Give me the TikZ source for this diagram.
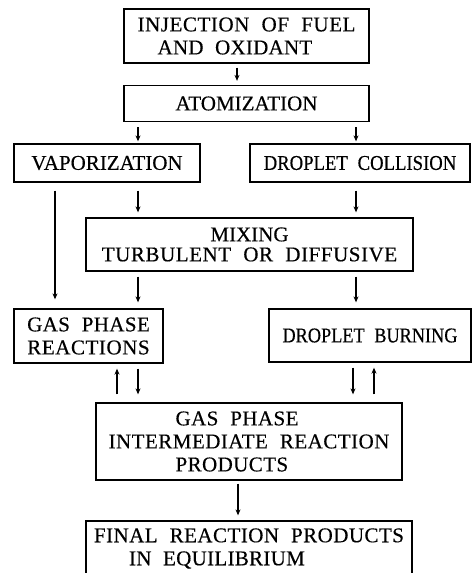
\documentclass[tikz,border=0pt]{standalone}
\usepackage{fontspec}
\usepackage{graphicx}
\setmainfont{Liberation Serif}[LetterSpace=2,FakeBold=0.4,WordSpace=2.1]
\usetikzlibrary{arrows.meta}
\newcommand{\lsp}[2]{{\addfontfeature{LetterSpace=#1}#2}}
\begin{document}
\begin{tikzpicture}[x=1pt,y=-1pt,
  box/.style={draw, line width=1.3pt, inner sep=0pt, font=\fontsize{21}{23}\selectfont},
  arr/.style={-{Stealth[length=6pt,width=5pt]}, line width=1.1pt, shorten >=5pt, shorten <=5pt}]
\useasboundingbox (0,0) rectangle (472,573);
\node[box, minimum width=245pt, minimum height=54pt, align=left] (inj) at (246.5,36)
  {\lsp{2.7}{INJECTION OF FUEL}\\\hspace*{20pt}\lsp{1.2}{AND OXIDANT}};
\node[box, minimum width=245pt, minimum height=36pt] (atom) at (246.5,103.5)
  {\lsp{0}{ATOMIZATION}};
\node[box, minimum width=186pt, minimum height=38pt] (vap) at (107,163)
  {\lsp{0}{VAPORIZATION}};
\node[box, minimum width=220pt, minimum height=38pt] (coll) at (360,163)
  {\scalebox{0.89}[1]{\lsp{0}{DROPLET COLLISION}}};
\node[box, minimum width=327pt, minimum height=53pt, align=center,
  font=\fontsize{21}{20}\selectfont] (mix) at (249.5,244.5)
  {\lsp{0}{MIXING}\\\lsp{2.7}{TURBULENT OR DIFFUSIVE}};
\node[box, minimum width=149pt, minimum height=54pt, align=center] (gpr) at (88.5,336)
  {\lsp{1.8}{GAS PHASE}\\\lsp{2.7}{REACTIONS}};
\node[box, minimum width=202pt, minimum height=53pt] (burn) at (370,335.5)
  {\scalebox{0.87}[1]{\lsp{0}{DROPLET BURNING}}};
\node[box, minimum width=306pt, minimum height=77pt, align=left] (inter) at (249,441.5)
  {\hspace*{67pt}\lsp{2}{GAS PHASE}\\\lsp{2.3}{INTERMEDIATE REACTION}\\\hspace*{67pt}\lsp{2}{PRODUCTS}};
\node[box, minimum width=326pt, minimum height=55pt, align=left] (final) at (249,548.5)
  {\lsp{2.2}{FINAL REACTION PRODUCTS}\\\hspace*{35pt}\lsp{1.4}{IN EQUILIBRIUM}};
\coordinate (cA) at (237,0);
\coordinate (cL) at (138,0);
\coordinate (cR) at (356,0);
\coordinate (cV) at (55,0);
\coordinate (cU1) at (117,0);
\coordinate (cD2) at (353,0);
\coordinate (cU2) at (374,0);
\coordinate (cF) at (238,0);
\draw[arr, shorten <=4pt, shorten >=4pt] (inj.south -| cA) -- (atom.north -| cA);
\draw[arr, shorten >=2pt] (atom.south -| cL) -- (vap.north -| cL);
\draw[arr, shorten >=2pt] (atom.south -| cR) -- (coll.north -| cR);
\draw[arr, shorten <=8pt, shorten >=9pt] (vap.south -| cV) -- (gpr.north -| cV);
\draw[arr, shorten <=8pt] (vap.south -| cL) -- (mix.north -| cL);
\draw[arr, shorten <=8pt] (coll.south -| cR) -- (mix.north -| cR);
\draw[arr, shorten >=6pt] (mix.south -| cL) -- (gpr.north -| cL);
\draw[arr, shorten >=6pt] (mix.south -| cR) -- (burn.north -| cR);
\draw[arr, shorten <=8pt] (inter.north -| cU1) -- (gpr.south -| cU1);
\draw[arr, shorten >=8pt] (gpr.south -| cL) -- (inter.north -| cL);
\draw[arr, shorten >=8pt] (burn.south -| cD2) -- (inter.north -| cD2);
\draw[arr, shorten <=8pt] (inter.north -| cU2) -- (burn.south -| cU2);
\draw[arr, shorten <=3pt] (inter.south -| cF) -- (final.north -| cF);
\end{tikzpicture}
\end{document}
